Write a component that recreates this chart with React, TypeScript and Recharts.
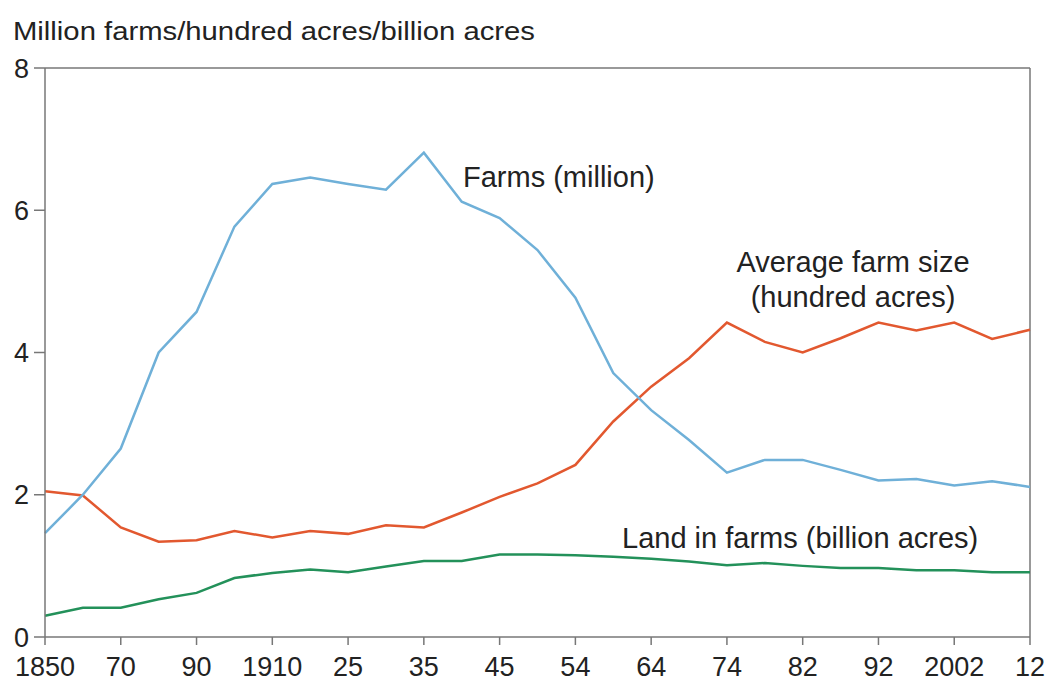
import React from 'react';
import {
  LineChart,
  Line,
  XAxis,
  YAxis,
  ReferenceLine,
} from 'recharts';

// census years (every point on the chart)
const years = [
  1850, 1860, 1870, 1880, 1890, 1900, 1910, 1920, 1925, 1930, 1935, 1940, 1945,
  1950, 1954, 1959, 1964, 1969, 1974, 1978, 1982, 1987, 1992, 1997, 2002, 2007, 2012,
];

// farms, million
const farms = [
  1.46, 2.0, 2.65, 4.0, 4.57, 5.77, 6.37, 6.46, 6.37, 6.29, 6.81, 6.12, 5.89,
  5.44, 4.77, 3.71, 3.19, 2.77, 2.31, 2.49, 2.49, 2.35, 2.2, 2.22, 2.13, 2.19, 2.11,
];

// average farm size, hundred acres
const avgSize = [
  2.05, 1.99, 1.54, 1.34, 1.36, 1.49, 1.4, 1.49, 1.45, 1.57, 1.54, 1.75, 1.97,
  2.16, 2.42, 3.03, 3.52, 3.92, 4.42, 4.15, 4.0, 4.2, 4.42, 4.31, 4.42, 4.19, 4.32,
];

// land in farms, billion acres
const land = [
  0.3, 0.41, 0.41, 0.53, 0.62, 0.83, 0.9, 0.95, 0.91, 0.99, 1.07, 1.07, 1.16,
  1.16, 1.15, 1.13, 1.1, 1.06, 1.01, 1.04, 1.0, 0.97, 0.97, 0.94, 0.94, 0.91, 0.91,
];

const tickYears = [1850, 1870, 1890, 1910, 1925, 1935, 1945, 1954, 1964, 1974, 1982, 1992, 2002, 2012];
const tickLabels = ['1850', '70', '90', '1910', '25', '35', '45', '54', '64', '74', '82', '92', '2002', '12'];
const yTicks = [0, 2, 4, 6, 8];

const data = years.map((year, i) => ({
  year,
  farms: farms[i],
  avgSize: avgSize[i],
  land: land[i],
}));

const FONT = '"Liberation Sans", Arial, Helvetica, sans-serif';
const AXIS = '#777';

export default function App() {
  const fmt = (v: number) => {
    const i = tickYears.indexOf(v);
    return i >= 0 ? tickLabels[i] : '';
  };

  return (
    <div
      style={{
        position: 'absolute',
        left: 0,
        top: 0,
        width: 1053,
        height: 687,
        background: '#fff',
        fontFamily: FONT,
      }}
    >
      <LineChart
        width={1053}
        height={687}
        data={data}
        margin={{ top: 68, right: 23, left: 0, bottom: 0 }}
      >
        <XAxis
          dataKey="year"
          type="category"
          interval={1}
          height={50}
          padding={{ left: 0, right: 0 }}
          tickFormatter={fmt}
          tickSize={8}
          tickMargin={12}
          stroke={AXIS}
          strokeWidth={1.5}
          tick={{ fill: '#222', fontSize: 27, fontFamily: FONT }}
        />
        <YAxis
          type="number"
          domain={[0, 8]}
          ticks={yTicks}
          width={45}
          tickSize={11}
          tickMargin={5}
          stroke={AXIS}
          strokeWidth={1.5}
          tick={{ fill: '#222', fontSize: 27, fontFamily: FONT }}
        />
        <ReferenceLine y={8} stroke={AXIS} strokeWidth={1.5} />
        <ReferenceLine x={2012} stroke={AXIS} strokeWidth={1.5} />
        <Line
          dataKey="land"
          stroke="#23915a"
          strokeWidth={2.5}
          dot={false}
          isAnimationActive={false}
        />
        <Line
          dataKey="avgSize"
          stroke="#e2582f"
          strokeWidth={2.5}
          dot={false}
          isAnimationActive={false}
        />
        <Line
          dataKey="farms"
          stroke="#6fb0d8"
          strokeWidth={2.5}
          dot={false}
          isAnimationActive={false}
        />
      </LineChart>
      <svg
        width={1053}
        height={687}
        style={{ position: 'absolute', left: 0, top: 0, pointerEvents: 'none' }}
      >
        <g fontFamily={FONT} fill="#222">
          <text x={13} y={40} fontSize={25} textLength={522} lengthAdjust="spacingAndGlyphs">
            Million farms/hundred acres/billion acres
          </text>
          <text x={463} y={187} fontSize={29}>
            Farms (million)
          </text>
          <text x={853} y={272} fontSize={29} textAnchor="middle">
            Average farm size
          </text>
          <text x={853} y={307} fontSize={29} textAnchor="middle">
            (hundred acres)
          </text>
          <text x={622} y={548} fontSize={29}>
            Land in farms (billion acres)
          </text>
        </g>
      </svg>
    </div>
  );
}
